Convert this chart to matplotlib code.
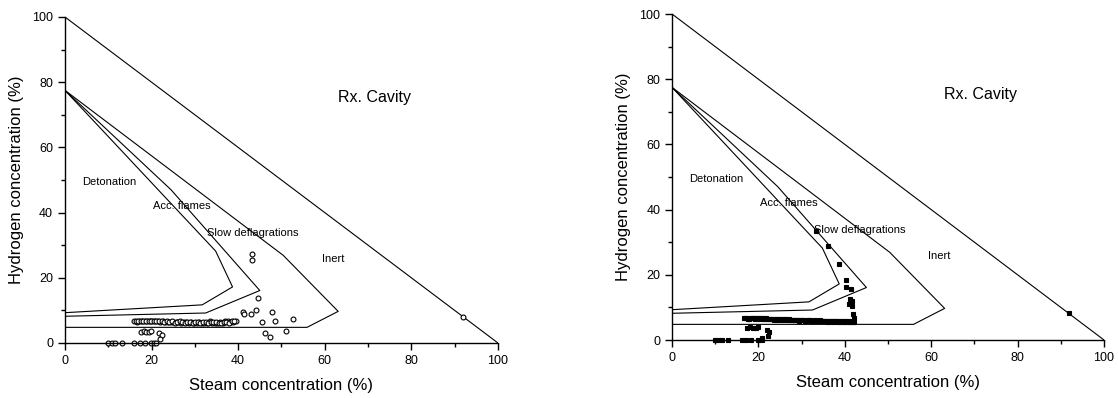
import matplotlib
matplotlib.use("Agg")
import matplotlib.pyplot as plt
from matplotlib.ticker import MultipleLocator

plt.rcParams.update({
    "font.family": ["Liberation Sans", "DejaVu Sans"],
    "font.size": 9,
    "axes.linewidth": 1.0,
    "xtick.direction": "out",
    "ytick.direction": "out",
})

# ─── Flammability regime boundaries (steam %, hydrogen %) ────────────────────
outer_x = [0, 100]
outer_y = [100, 0]

deto_x = [0, 34.8, 38.7, 31.7, 0]
deto_y = [77.5, 28.2, 17.2, 11.7, 9.3]

acc_x = [0, 24.5, 45.0, 32.5, 0]
acc_y = [77.5, 47.0, 16.1, 9.2, 8.2]

slow_x = [0, 50.4, 63.1, 55.9, 0]
slow_y = [77.5, 26.9, 9.7, 4.8, 4.8]

region_labels = ["Detonation", "Acc. flames", "Slow deflagrations", "Inert"]
region_lx = [3.9, 20.4, 32.9, 59.3]
region_ly = [49.5, 42.0, 33.8, 25.8]

# ─── Left panel: open circles ────────────────────────────────────────────────
left_x = [10.0, 10.8, 11.5, 13.2, 16.0, 17.3, 18.6, 19.8, 20.6, 21.0,
          17.6, 18.2, 18.8, 19.4, 19.8,
          21.8, 22.5, 22.0,
          43.3, 43.2, 44.6, 41.2, 41.3, 43.0, 44.1, 47.9, 45.6, 48.5, 52.7,
          46.3, 47.4, 51.0, 92.0]
left_y = [0, 0, 0, 0, 0, 0, 0, 0, 0, 0,
          3.5, 3.6, 3.4, 3.5, 3.6,
          3.1, 2.5, 1.1,
          27.3, 25.5, 13.7, 9.4, 8.9, 8.9, 10.0, 9.6, 6.3, 6.7, 7.3,
          3.2, 1.8, 3.7, 7.9]

left_band_x = [16.0, 16.6, 17.2, 17.8, 18.4, 19.0, 19.6, 20.2, 20.8, 21.4,
               22.0, 22.6, 23.2, 23.8, 24.4, 25.0, 25.6, 26.2, 26.8, 27.4,
               28.0, 28.6, 29.2, 29.8, 30.4, 31.0, 31.6, 32.2, 32.8, 33.4,
               34.0, 34.6, 35.2, 35.8, 36.4, 37.0, 37.6, 38.2, 38.8, 39.4,
               16.3, 16.9, 17.5, 18.1, 18.7, 19.3, 19.9, 20.5, 21.1, 21.7,
               22.3, 22.9, 23.5, 24.1, 24.7, 25.3, 25.9, 26.5, 27.1, 27.7,
               28.3, 28.9, 29.5, 30.1, 30.7, 31.3, 31.9, 32.5, 33.1, 33.7,
               34.3, 34.9, 35.5, 36.1, 36.7, 37.3, 37.9, 38.5, 39.1]
left_band_y = [6.6, 6.5, 6.6, 6.7, 6.8, 6.7, 6.6, 6.8, 6.7, 6.6,
               6.5, 6.6, 6.4, 6.5, 6.3, 6.4, 6.5, 6.3, 6.2, 6.4,
               6.3, 6.2, 6.3, 6.1, 6.2, 6.3, 6.1, 6.2, 6.0, 6.6,
               6.2, 6.1, 6.0, 6.4, 6.2, 6.8, 6.6, 6.5, 6.3, 6.6,
               6.9, 6.8, 6.9, 6.6, 6.9, 6.8, 6.9, 6.6, 6.8, 6.9,
               6.7, 6.4, 6.6, 6.3, 6.6, 6.2, 6.3, 6.6, 6.4, 6.1,
               6.4, 6.5, 6.0, 6.3, 6.4, 6.0, 6.3, 6.4, 6.2, 6.3,
               6.5, 6.3, 6.2, 6.0, 6.5, 6.3, 6.2, 6.7, 6.9]

# ─── Right panel: filled squares ─────────────────────────────────────────────
right_x = [10.0, 10.7, 11.5, 13.0, 16.1, 17.1, 18.2, 19.8, 20.8,
           17.3, 18.0, 18.7, 19.4, 20.0,
           21.9, 22.5, 22.1, 20.8,
           33.3, 36.0, 38.7, 40.2, 40.2, 41.4, 41.2, 41.7, 41.0, 41.6,
           42.0, 42.2, 92.0]
right_y = [0, 0, 0, 0, 0, 0, 0, 0, 0,
           3.8, 3.9, 3.7, 3.8, 3.9,
           3.1, 2.5, 1.3, 0.6,
           33.4, 28.8, 23.3, 18.4, 16.2, 15.5, 12.5, 12.1, 11.0, 10.4,
           7.9, 6.9, 8.2]

right_band_x = [16.6, 17.2, 17.8, 18.4, 19.0, 19.6, 20.2, 20.8, 21.4, 22.0,
                22.6, 23.2, 23.8, 24.4, 25.0, 25.6, 26.2, 26.8, 27.4, 28.0,
                28.6, 29.2, 29.8, 30.4, 31.0, 31.6, 32.2, 32.8, 33.4, 34.0,
                34.6, 35.2, 35.8, 36.4, 37.0, 37.6, 38.2, 38.8, 39.4, 40.0,
                40.6, 41.2, 41.8,
                16.9, 17.5, 18.1, 18.7, 19.3, 19.9, 20.5, 21.1, 21.7, 22.3,
                22.9, 23.5, 24.1, 24.7, 25.3, 25.9, 26.5, 27.1, 27.7, 28.3,
                28.9, 29.5, 30.1, 30.7, 31.3, 31.9, 32.5, 33.1, 33.7, 34.3,
                34.9, 35.5, 36.1, 36.7, 37.3, 37.9, 38.5, 39.1, 39.7, 40.3,
                40.9, 41.5, 42.1]
right_band_y = [6.6, 6.7, 6.5, 6.6, 6.7, 6.6, 6.5, 6.6, 6.4, 6.5,
                6.4, 6.3, 6.4, 6.2, 6.3, 6.2, 6.3, 6.1, 6.2, 6.1,
                6.0, 6.1, 6.0, 6.1, 5.9, 6.0, 5.9, 5.8, 5.9, 5.8,
                5.9, 5.8, 5.7, 5.8, 5.7, 5.8, 5.7, 5.6, 5.7, 5.6,
                5.7, 5.6, 5.5,
                6.9, 6.5, 6.8, 6.9, 6.4, 6.8, 6.7, 6.3, 6.6, 6.3,
                6.5, 6.2, 6.4, 6.3, 6.0, 6.4, 6.1, 6.3, 6.0, 6.2,
                6.2, 5.8, 6.1, 5.9, 6.0, 6.1, 5.7, 6.0, 5.7, 6.0,
                5.7, 5.9, 5.6, 5.9, 5.6, 5.9, 5.5, 5.8, 5.5, 5.8,
                5.5, 5.8, 5.6]


def draw_panel(ax, pts_x, pts_y, marker, face):
    for xs, ys in [(outer_x, outer_y), (deto_x, deto_y),
                   (acc_x, acc_y), (slow_x, slow_y)]:
        ax.plot(xs, ys, color="black", lw=0.8)

    ax.plot(pts_x, pts_y, linestyle="none", marker=marker, ms=3.5,
            mfc=face, mec="black", mew=0.8, clip_on=False)

    for lab, lx, ly in zip(region_labels, region_lx, region_ly):
        ax.text(lx, ly, lab, fontsize=8, va="center", ha="left")
    ax.text(63, 75.2, "Rx. Cavity", fontsize=11.5, va="center", ha="left")

    ax.set_xlim(0, 100)
    ax.set_ylim(0, 100)
    ax.xaxis.set_major_locator(MultipleLocator(20))
    ax.xaxis.set_minor_locator(MultipleLocator(10))
    ax.yaxis.set_major_locator(MultipleLocator(20))
    ax.yaxis.set_minor_locator(MultipleLocator(10))
    ax.tick_params(which="major", length=5, width=1.0, labelsize=9)
    ax.tick_params(which="minor", length=3, width=1.0)
    ax.spines["top"].set_visible(False)
    ax.spines["right"].set_visible(False)
    ax.set_xlabel("Steam concentration (%)", fontsize=12, labelpad=8)
    ax.set_ylabel("Hydrogen concentration (%)", fontsize=12, labelpad=6)


fig = plt.figure(figsize=(11.18, 3.98), dpi=100)
ax_l = fig.add_axes([0.0581, 0.1382, 0.3873, 0.8191])
ax_r = fig.add_axes([0.6011, 0.1457, 0.3864, 0.8191])

draw_panel(ax_l, left_x + left_band_x, left_y + left_band_y, "o", "white")
draw_panel(ax_r, right_x + right_band_x, right_y + right_band_y, "s", "black")

fig.savefig("out.png", dpi=100)
